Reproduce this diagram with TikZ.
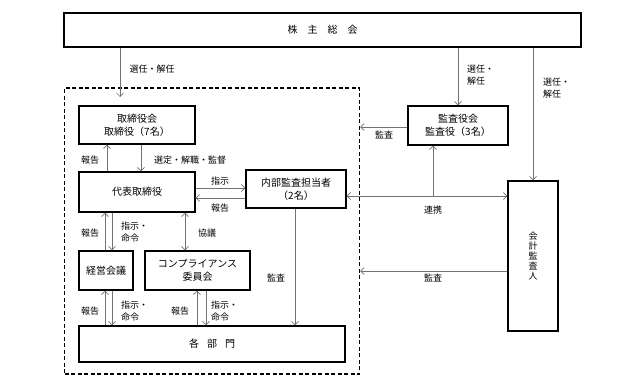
\documentclass[tikz,border=0pt]{standalone}
\usepackage{fontspec}
\setmainfont{Noto Sans CJK JP}
\usetikzlibrary{arrows.meta}

\begin{document}
\begin{tikzpicture}[x=1pt,y=-1pt,
  box/.style={draw,line width=1.2pt,inner sep=0pt,align=center,font=\fontsize{10}{13}\selectfont},
  frame/.style={draw,dashed,line width=1.1pt,dash pattern=on 4pt off 2.5pt,minimum width=295,minimum height=286},
  arr/.style={draw=black!55,line width=0.7pt,-{Straight Barb[length=3.5pt,width=7pt]}},
  dblarr/.style={draw=black!55,line width=0.7pt,{Straight Barb[length=3.5pt,width=7pt]}-{Straight Barb[length=3.5pt,width=7pt]}},
  lbl/.style={inner sep=0pt,align=left,font=\fontsize{9}{12}\selectfont}]
\useasboundingbox (0,0) rectangle (643,388);

% boxes
\node[box,minimum width=517,minimum height=34] (soukai) at (322.5,30) {株\hspace{1em}主\hspace{1em}総\hspace{1em}会};
\node[frame] (shanai) at (212,231) {};
\node[box,minimum width=116,minimum height=38] (torishimari) at (137,125) {取締役会\\取締役（7名）};
\node[box,minimum width=116,minimum height=40] (daihyo) at (137,192) {代表取締役};
\node[box,minimum width=100,minimum height=38] (naibu) at (296,189) {内部監査担当者\\（2名）};
\node[box,minimum width=100,minimum height=39] (kansayaku) at (458,125.5) {監査役会\\監査役（3名）};
\node[box,minimum width=50,minimum height=150,font=\fontsize{9}{10}\selectfont] (kaikei) at (533,256) {会\\計\\監\\査\\人};
\node[box,minimum width=54,minimum height=39] (keiei) at (106,270.5) {経営会議};
\node[box,minimum width=105,minimum height=39] (compliance) at (197.5,270.5) {コンプライアンス\\委員会};
\node[box,minimum width=266,minimum height=36] (bumon) at (212,344) {各\hspace{0.8em}部\hspace{0.8em}門};

% free ends
\coordinate (sennin) at (120,97);
\coordinate (renkei) at (433,196);

% shareholders
\draw[arr] (120,0 |- soukai.south) -- (sennin);
\draw[arr] (soukai.south -| kansayaku.north) -- (kansayaku.north);
\draw[arr] (soukai.south -| kaikei.north) -- (kaikei.north);
\node[lbl] at (152,69) {選任・解任};
\node[lbl,anchor=west] at (467,75) {選任・\\解任};
\node[lbl,anchor=west] at (543,88) {選任・\\解任};

% auditors
\draw[arr] ([yshift=-1.5]kansayaku.west) -- ([yshift=-1.5]kansayaku.west -| shanai.east);
\node[lbl] at (384,135) {監査};
\draw[dblarr] ([yshift=-7]naibu.east) -- ([yshift=-7]naibu.east -| kaikei.west);
\draw[arr] (renkei) -- (renkei |- kansayaku.south);
\node[lbl] at (433,210) {連携};
\draw[arr] ([yshift=-15]kaikei.west) -- ([yshift=-15]kaikei.west -| shanai.east);
\node[lbl] at (433,278) {監査};

% board and representative director
\draw[arr] ([xshift=-30]daihyo.north) -- ([xshift=-30]torishimari.south);
\draw[arr] ([xshift=4]torishimari.south) -- ([xshift=4]daihyo.north);
\node[lbl] at (90,160) {報告};
\node[lbl] at (190,160) {選定・解職・監督};

% internal audit
\draw[arr] ([yshift=4]daihyo.east) -- ([yshift=4]daihyo.east -| naibu.west);
\draw[arr] ([yshift=-6]daihyo.east -| naibu.west) -- ([yshift=-6]daihyo.east);
\node[lbl] at (220,181) {指示};
\node[lbl] at (220,208) {報告};
\draw[arr] ([xshift=-1]naibu.south) -- ([xshift=-1]naibu.south |- bumon.north);
\node[lbl] at (276,278) {監査};

% management meeting and compliance
\draw[arr] ([xshift=-1]keiei.north) -- ([xshift=-1]keiei.north |- daihyo.south);
\draw[arr] ([xshift=6]keiei.north |- daihyo.south) -- ([xshift=6]keiei.north);
\node[lbl] at (90,233) {報告};
\node[lbl,anchor=west] at (121,232) {指示・\\命令};
\draw[dblarr] ([xshift=48]daihyo.south) -- ([xshift=48]daihyo.south |- compliance.north);
\node[lbl] at (207,233) {協議};

% departments
\draw[arr] ([xshift=-1]keiei.south |- bumon.north) -- ([xshift=-1]keiei.south);
\draw[arr] ([xshift=6]keiei.south) -- ([xshift=6]keiei.south |- bumon.north);
\node[lbl] at (90,311) {報告};
\node[lbl,anchor=west] at (121,311) {指示・\\命令};
\draw[arr] ([xshift=-0.5]compliance.south |- bumon.north) -- ([xshift=-0.5]compliance.south);
\draw[arr] ([xshift=8.5]compliance.south) -- ([xshift=8.5]compliance.south |- bumon.north);
\node[lbl] at (180,311) {報告};
\node[lbl,anchor=west] at (211,311) {指示・\\命令};
\end{tikzpicture}
\end{document}
